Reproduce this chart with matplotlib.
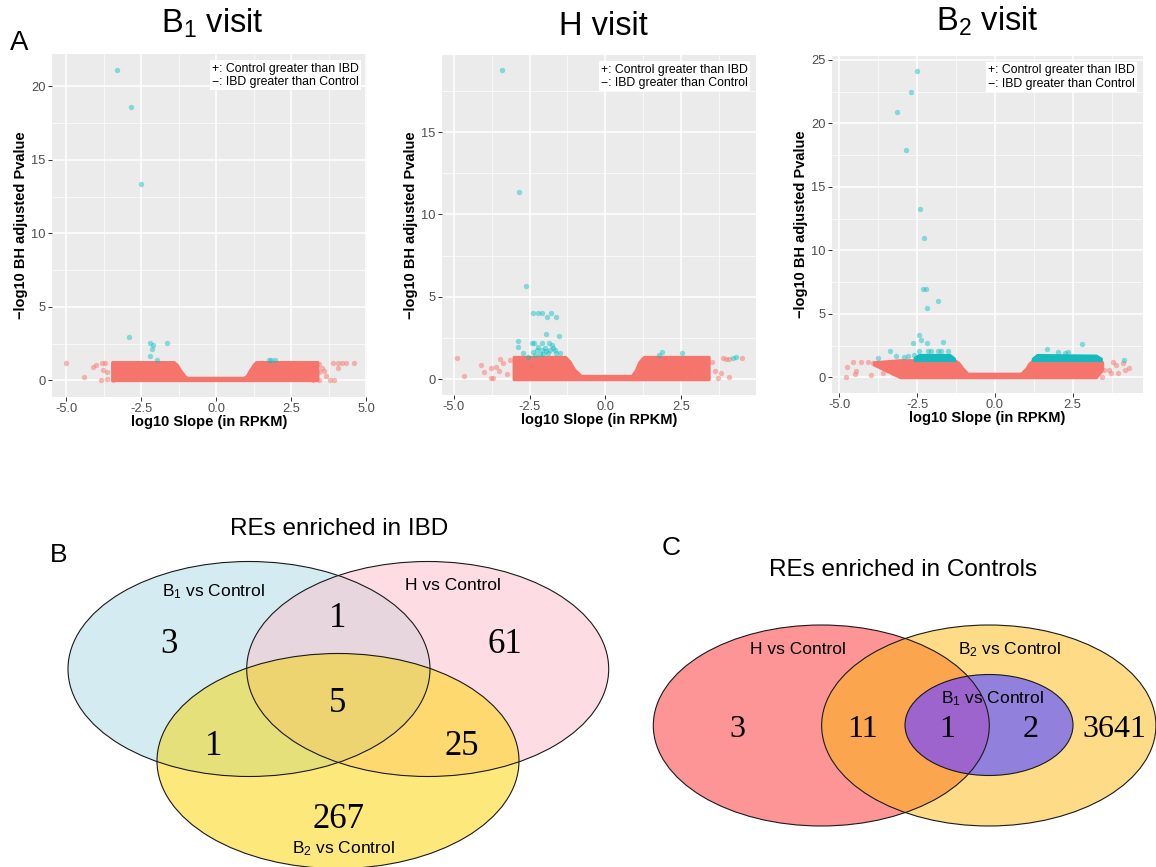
import numpy as np
import matplotlib
matplotlib.use("Agg")
import matplotlib.pyplot as plt
from matplotlib.patches import Ellipse, Polygon
from matplotlib.ticker import MultipleLocator, FormatStrFormatter

plt.rcParams['font.family'] = ['Liberation Sans', 'DejaVu Sans']
plt.rcParams['mathtext.fontset'] = 'custom'
plt.rcParams['mathtext.rm'] = 'Liberation Sans'
plt.rcParams['mathtext.default'] = 'regular'
plt.rcParams['axes.unicode_minus'] = False

RED = '#F8766D'
RED_DENSE = '#F5756C'
CYAN = '#00BFC4'
CYAN_DENSE = '#16BABE'

# ---------------- panel A: volcano plots ----------------
visit_titles = ['B$_1$ visit', 'H visit', 'B$_2$ visit']

# B1 visit: outline of the dense red cloud, sparse red points, significant (cyan) points
b1_band_x = [-3.47, -1.41, -1.3, -1.19, -1.05, -0.97, 0.92, 1.02, 1.12, 1.24, 1.33, 3.38]
b1_band_top = [1.25, 1.25, 1.05, 0.68, 0.3, 0.18, 0.18, 0.3, 0.68, 1.05, 1.25, 1.25]
b1_band_bot = [0.0] * 12
b1_red_x = [-5.0, -4.39, -4.09, -4.02, -3.8, -3.72, -3.78, -3.64, -3.83, -3.64, -3.44, -3.39,
            3.33, 3.44, 3.53, 3.58, 3.44, 3.28, 3.24, 3.44, 3.67, 3.8, 3.94, 3.91, 4.06, 4.2, 4.33, 4.58, 4.06]
b1_red_y = [1.18, 0.23, 0.91, 1.07, 1.2, 1.14, 0.68, 0.57, 0.05, 0.09, 0.05, 0.63,
            1.18, 1.09, 0.8, 0.64, 0.57, 0.34, 0.0, 0.0, 0.27, 0.05, 0.0, 1.14, 1.18, 1.18, 1.18, 1.18, 0.84]
b1_sig_x = [-3.29, -2.84, -2.5, -2.89, -2.22, -2.11, -2.14, -1.63, -2.19, -1.98, 1.76, 1.83, 1.96]
b1_sig_y = [21.13, 18.56, 13.38, 2.95, 2.54, 2.43, 2.16, 2.54, 1.64, 1.36, 1.39, 1.39, 1.39]

# H visit
h_band_x = [-3.03, -1.32, -1.18, -1.02, -0.8, 0.88, 1.0, 1.12, 1.27, 3.42]
h_band_top = [1.37, 1.37, 1.1, 0.6, 0.22, 0.22, 0.55, 1.05, 1.37, 1.37]
h_band_bot = [0.0] * 10
h_red_x = [-4.91, -4.66, -4.11, -3.99, -3.77, -3.77, -3.7, -3.61, -3.48, -3.51, -3.36, -3.25, -3.14,
           3.31, 3.53, 3.09, 2.93, 3.14, 3.64, 3.73, 3.84, 3.89, 3.99, 4.1, 4.08, 4.53]
h_red_y = [1.27, 0.2, 0.87, 0.46, 0.66, 0.06, 0.06, 0.72, 1.21, 0.52, 0.97, 0.32, 1.19,
           0.77, 1.07, 0.56, 0.36, 0.16, 0.5, 0.06, 0.36, 1.27, 1.23, 1.21, 0.12, 1.27]
h_sig_x = [-3.42, -2.85, -2.62, -2.37, -2.23, -2.08, -1.91, -1.8, -1.63,
           -1.96, -1.54, -2.89, -2.89, -2.43, -2.34, -2.1, -1.86, -1.77, -2.21, -1.71,
           -2.7, -2.37, -2.26, -2.1, -1.99, -1.94, -1.83, -1.67, -1.5, -2.32, -2.15, -2.04,
           -1.88, -1.61, -2.54, 1.79, 1.88, 2.54, 4.23, 4.32]
h_sig_y = [18.76, 11.36, 5.68, 4.0, 4.0, 4.0, 3.76, 4.0, 3.76,
           2.75, 2.63, 2.34, 1.98, 2.18, 2.18, 2.22, 2.22, 2.08, 1.98, 1.88,
           1.58, 1.67, 1.78, 1.78, 1.88, 1.74, 1.78, 1.78, 1.61, 1.47, 1.51, 1.51,
           1.58, 1.58, 1.37, 1.47, 1.64, 1.57, 1.27, 1.33]

# B2 visit
b2_band_x = [-3.9, -3.05, -1.3, -1.17, -1.05, -0.88, 0.84, 1.0, 1.1, 1.22, 3.25, 3.45]
b2_band_top = [1.2, 1.36, 1.36, 1.15, 0.75, 0.3, 0.3, 0.7, 1.1, 1.36, 1.36, 1.2]
b2_band_bot = [1.0, 0.0, 0.0, 0.0, 0.0, 0.0, 0.0, 0.0, 0.0, 0.0, 0.0, 0.6]
b2_sigband_left_x = [-2.6, -2.45, -1.45, -1.3]
b2_sigband_left_top = [1.55, 1.8, 1.8, 1.5]
b2_sigband_right_x = [1.2, 1.35, 3.25, 3.42]
b2_sigband_right_top = [1.5, 1.8, 1.75, 1.5]
b2_red_x = [-4.78, -4.75, -4.57, -4.5, -4.47, -4.3, -4.09, -4.0, -3.93, -3.77, -3.6, -3.55, -3.39,
            -3.28, -3.12, -3.07, 2.98, 3.15, 3.31, 3.41, 3.44, 3.52, 3.68, 3.74, 3.79, 3.9, 3.95,
            4.11, 4.17, 4.3]
b2_red_y = [0.05, 0.84, 1.23, 0.26, 0.52, 1.23, 1.23, 0.18, 1.15, 1.15, 0.31, 0.97, 0.58,
            0.31, 0.58, 0.97, 0.18, 0.45, 0.31, 0.97, 0.05, 0.58, 0.58, 0.31, 1.23, 0.97, 0.31,
            1.1, 0.58, 0.71]
b2_sig_x = [-2.51, -2.7, -3.15, -2.87, -2.41, -2.28, -2.3, -2.23, -1.83, -2.18, -2.44, -2.39,
            -2.62, -2.18, -1.67, -3.37, -3.75, -3.19, 2.79, 4.15, -2.43, -2.16, -2.06, -1.84,
            -1.74, -1.52, 1.68, 2.02, 2.24, 2.34, -2.79, -2.92, -2.6]
b2_sig_y = [24.14, 22.5, 20.88, 17.86, 13.24, 10.95, 6.93, 6.93, 6.04, 5.44, 3.31, 2.94,
            2.73, 2.73, 2.81, 2.07, 1.55, 1.68, 2.62, 1.36, 2.1, 2.1, 2.1, 2.1,
            2.1, 2.1, 2.2, 2.02, 1.89, 2.02, 1.68, 1.57, 1.74]

# ---------------- panels B and C: Venn counts ----------------
ibd_sets = ['B$_1$ vs Control', 'H vs Control', 'B$_2$ vs Control']
ibd_regions = ['B1 only', 'B1&H', 'H only', 'all', 'B1&B2', 'H&B2', 'B2 only']
ibd_counts = [3, 1, 61, 5, 1, 25, 267]

ctrl_sets = ['H vs Control', 'B$_2$ vs Control', 'B$_1$ vs Control']
ctrl_regions = ['H only', 'H&B2', 'H&B2&B1', 'B2&B1', 'B2 only']
ctrl_counts = [3, 11, 1, 2, 3641]

W, H = 1156, 867
fig = plt.figure(figsize=(W / 100, H / 100), dpi=100)


def px_rect(l, t, r, b):
    return [l / W, 1 - b / H, (r - l) / W, (b - t) / H]


ov = fig.add_axes([0, 0, 1, 1])
ov.set_xlim(0, W)
ov.set_ylim(H, 0)
ov.axis('off')


def volcano(rect, band_x, band_top, band_bot, red_x, red_y, sig_x, sig_y, xlim, ylim, sig_bands=()):
    ax = fig.add_axes(px_rect(*rect))
    ax.set_facecolor('#EBEBEB')
    for s in ax.spines.values():
        s.set_visible(False)
    ax.fill_between(band_x, band_bot, band_top, facecolor=RED_DENSE, edgecolor=RED_DENSE,
                    linewidth=2, zorder=2)
    ax.scatter(red_x, red_y, s=15, color=RED, alpha=0.5, linewidths=0, zorder=3)
    for bx, bt in sig_bands:
        ax.fill_between(bx, [1.32] * len(bx), bt, facecolor=CYAN_DENSE, edgecolor=CYAN_DENSE,
                        linewidth=1.5, zorder=3)
    ax.scatter(sig_x, sig_y, s=15, color=CYAN, alpha=0.45, linewidths=0, zorder=4)
    ax.set_xlim(*xlim)
    ax.set_ylim(*ylim)
    ax.xaxis.set_major_locator(MultipleLocator(2.5))
    ax.xaxis.set_minor_locator(MultipleLocator(1.25))
    ax.yaxis.set_major_locator(MultipleLocator(5))
    ax.yaxis.set_minor_locator(MultipleLocator(2.5))
    ax.xaxis.set_major_formatter(FormatStrFormatter('%.1f'))
    ax.yaxis.set_major_formatter(FormatStrFormatter('%d'))
    ax.grid(which='major', color='white', lw=1.1)
    ax.grid(which='minor', color='white', lw=0.5)
    ax.set_axisbelow(True)
    ax.tick_params(which='major', length=3, width=0.7, color='#333333', labelcolor='#4D4D4D',
                   labelsize=9.3, pad=1.5)
    ax.tick_params(which='minor', length=0)
    ax.set_xlabel('log10 Slope (in RPKM)', fontsize=10.5, fontweight='bold', labelpad=0)
    ax.set_ylabel('\u2212log10 BH adjusted Pvalue', fontsize=10.5, fontweight='bold', labelpad=2)
    ax.text(0.975, 0.975, '+: Control greater than IBD\n\u2212: IBD greater than Control',
            transform=ax.transAxes, ha='right', va='top', fontsize=8.8, linespacing=1.2,
            bbox=dict(facecolor='white', edgecolor='none', pad=1.5), zorder=6)
    return ax


volcano((52, 54, 367, 397), b1_band_x, b1_band_top, b1_band_bot, b1_red_x, b1_red_y,
        b1_sig_x, b1_sig_y, (-5.47, 5.03), (-1.14, 22.2))
volcano((441.7, 55, 755.7, 395), h_band_x, h_band_top, h_band_bot, h_red_x, h_red_y,
        h_sig_x, h_sig_y, (-5.40, 4.97), (-0.95, 19.67))
volcano((831.7, 56, 1142.7, 392.7), b2_band_x, b2_band_top, b2_band_bot, b2_red_x, b2_red_y,
        b2_sig_x, b2_sig_y, (-5.25, 4.75), (-1.21, 25.3),
        sig_bands=[(b2_sigband_left_x, b2_sigband_left_top),
                   (b2_sigband_right_x, b2_sigband_right_top)])

for title, xc, yb in zip(visit_titles, [212, 603, 987], [33, 35, 31]):
    ov.text(xc, yb, title, fontsize=23.5, ha='center', va='baseline')
ov.text(10, 50, 'A', fontsize=20, ha='left', va='baseline')

# ---------------- Venn helpers ----------------
EDGE = '#1A1A1A'


def ellipse(c, w, h, color, **kw):
    e = Ellipse(c, w, h, facecolor=color, edgecolor='none', **kw)
    ov.add_patch(e)
    return e


def outline(c, w, h):
    ov.add_patch(Ellipse(c, w, h, facecolor='none', edgecolor=EDGE, lw=0.8, zorder=5))


def inside(px, py, e):
    c, w, h = e
    return ((px - c[0]) / (w / 2)) ** 2 + ((py - c[1]) / (h / 2)) ** 2 <= 1 + 1e-9


def triple_polygon(e1, e2, e3):
    pts = []
    t = np.linspace(0, 2 * np.pi, 1440, endpoint=False)
    es = [e1, e2, e3]
    for i, (c, w, h) in enumerate(es):
        px = c[0] + w / 2 * np.cos(t)
        py = c[1] + h / 2 * np.sin(t)
        m = np.ones_like(px, dtype=bool)
        for j, o in enumerate(es):
            if j != i:
                m &= inside(px, py, o)
        pts.append(np.column_stack([px[m], py[m]]))
    pts = np.vstack(pts)
    cen = pts.mean(axis=0)
    order = np.argsort(np.arctan2(pts[:, 1] - cen[1], pts[:, 0] - cen[0]))
    return pts[order]


# ---------------- panel B ----------------
eB1 = ((249, 669), 362, 215)
eH = ((427.7, 669), 362, 215)
eB2 = ((338, 761), 362, 215)
pB1 = ellipse(*eB1, '#D4EBF1', zorder=1)
pH = ellipse(*eH, '#FDDDE3', zorder=1)
pB2 = ellipse(*eB2, '#FDE87C', zorder=1)
ellipse(*eB1, '#E8D6DE', zorder=2).set_clip_path(pH)
ellipse(*eB2, '#E6E07B', zorder=2).set_clip_path(pB1)
ellipse(*eB2, '#FDD96F', zorder=2).set_clip_path(pH)
ov.add_patch(Polygon(triple_polygon(eB1, eH, eB2), closed=True, facecolor='#EDD470',
                     edgecolor='none', zorder=3))
for e in (eB1, eH, eB2):
    outline(*e)

ibd_num_pos = [(169, 653), (338, 627), (505, 653), (338, 712), (214, 755), (462, 755), (338, 828)]
for n, (x, y) in zip(ibd_counts, ibd_num_pos):
    ov.text(x, y, str(n), fontsize=25, family='Liberation Serif', ha='center', va='baseline', zorder=6)
for lab, (x, y) in zip(ibd_sets, [(213, 596), (453, 590), (343, 853)]):
    ov.text(x, y, lab, fontsize=12.5, ha='center', va='baseline', zorder=6)
ov.text(339, 535, 'REs enriched in IBD', fontsize=17.5, ha='center', va='baseline')
ov.text(50, 562, 'B', fontsize=19, ha='left', va='baseline')

# ---------------- panel C ----------------
eCH = ((821.3, 725.5), 336, 201)
eCB2 = ((988.8, 725.5), 334.3, 201)
eCB1 = ((989, 725), 168, 101)
pCH = ellipse(*eCH, '#FD9496', zorder=1)
pCB2 = ellipse(*eCB2, '#FEDB86', zorder=1)
ellipse(*eCH, '#FBA54F', zorder=2).set_clip_path(pCB2)
pCB1 = ellipse(*eCB1, '#9180DC', zorder=3)
ellipse(*eCB1, '#9C64CC', zorder=4).set_clip_path(pCH)
for e in (eCH, eCB2, eCB1):
    outline(*e)

ctrl_num_pos = [(737, 737), (863, 737), (947, 737), (1031, 737), (1114, 737)]
for n, (x, y) in zip(ctrl_counts, ctrl_num_pos):
    ov.text(x, y, str(n), fontsize=23, family='Liberation Serif', ha='center', va='baseline', zorder=6)
for lab, (x, y) in zip(ctrl_sets, [(798, 654), (1009, 654), (992, 703)]):
    ov.text(x, y, lab, fontsize=12.5, ha='center', va='baseline', zorder=6)
ov.text(903, 576, 'REs enriched in Controls', fontsize=17.5, ha='center', va='baseline')
ov.text(662, 555, 'C', fontsize=19, ha='left', va='baseline')

fig.savefig('out.png', dpi=100)
